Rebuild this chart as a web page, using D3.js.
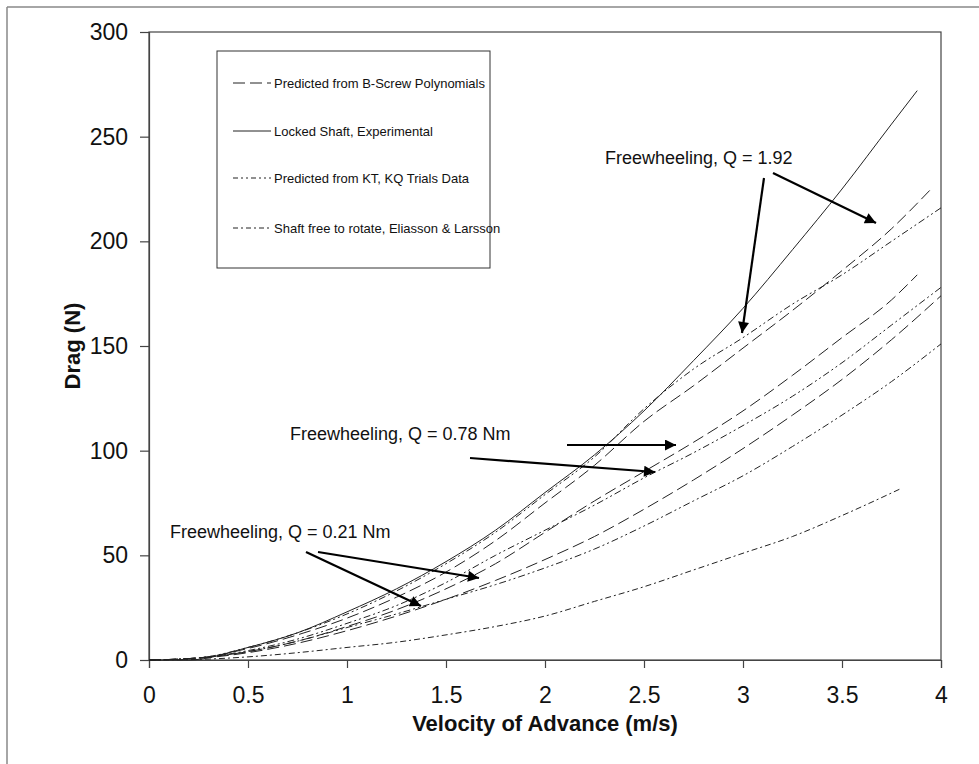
<!DOCTYPE html>
<html><head><meta charset="utf-8">
<script src="https://cdn.jsdelivr.net/npm/d3@7"></script>
<style>
body{margin:0;background:#fff;}
svg{display:block;font-family:Arial,"Liberation Sans",sans-serif;}
</style></head>
<body><svg id="c" width="979" height="764"></svg>
<script>
// ---- data ----
const xTicks = [0, 0.5, 1, 1.5, 2, 2.5, 3, 3.5, 4];
const yTicks = [0, 50, 100, 150, 200, 250, 300];
const xTitle = "Velocity of Advance (m/s)";
const yTitle = "Drag (N)";

// Locked shaft, experimental (solid)
const lockedV = [0, 0.2, 0.5, 0.75, 1, 1.25, 1.5, 1.75, 2, 2.25, 2.5, 2.75, 3, 3.25, 3.5, 3.75, 3.88];
const lockedD = [0, 0, 6, 13, 23, 34, 47, 62, 80, 98, 119, 143, 168, 196, 225, 256, 272];

// Predicted from B-Screw polynomials (dashed), three freewheel torques
const bs192V = [0, 0.25, 0.5, 0.75, 1, 1.25, 1.5, 1.75, 2, 2.25, 2.5, 2.75, 3, 3.25, 3.5, 3.75, 3.96];
const bs192D = [0, 1, 5.5, 12, 20, 30, 42, 57, 75, 93, 114, 131, 149, 167, 186, 206, 226];
const bs078V = [0, 0.25, 0.5, 0.75, 1, 1.25, 1.5, 1.75, 2, 2.25, 2.5, 2.75, 3, 3.25, 3.5, 3.75, 3.88];
const bs078D = [0, 1, 4, 9, 16, 24, 34, 46, 61, 76, 90, 104, 119, 136, 154, 172, 184];
const bs021V = [0, 0.25, 0.5, 0.75, 1, 1.25, 1.5, 1.75, 2, 2.25, 2.5, 2.75, 3, 3.25, 3.5, 3.75, 4];
const bs021D = [0, 0.8, 3.5, 8, 14, 21, 29, 38, 48, 59, 72, 86, 101, 117, 134, 153, 174];

// Predicted from KT, KQ trials data (dash-dot-dot)
const kt192V = [0, 0.25, 0.5, 0.75, 1, 1.25, 1.5, 1.75, 2, 2.25, 2.5, 2.75, 3, 3.25, 3.5, 3.75, 4];
const kt192D = [0, 1, 6, 13, 22, 33, 46, 61, 79, 97, 120, 139, 154, 170, 184, 200, 216];
const kt078V = [0, 0.25, 0.5, 0.75, 1, 1.25, 1.5, 1.75, 2, 2.25, 2.5, 2.75, 3, 3.25, 3.5, 3.75, 4];
const kt078D = [0, 1, 4.5, 10, 17.5, 26, 37, 50, 62, 74, 87, 99, 112, 126, 142, 160, 178];
const kt021V = [0, 0.25, 0.5, 0.75, 1, 1.25, 1.5, 1.75, 2, 2.25, 2.5, 2.75, 3, 3.25, 3.5, 3.75, 4];
const kt021D = [0, 1, 4, 9, 15.5, 22, 29, 36, 44, 53, 64, 76, 88, 102, 117, 133, 151];

// Shaft free to rotate, Eliasson & Larsson (dash-dot)
const elV = [0, 0.25, 0.5, 0.75, 1, 1.25, 1.5, 1.75, 2, 2.25, 2.5, 2.75, 3, 3.25, 3.5, 3.8];
const elD = [0, 0.3, 1.5, 3.5, 6, 8.5, 12, 16, 21, 28, 35, 43, 51, 59, 69, 82];

const legendLabels = ["Predicted from B-Screw Polynomials", "Locked Shaft, Experimental",
  "Predicted from KT, KQ Trials Data", "Shaft free to rotate, Eliasson & Larsson"];
const notes = ["Freewheeling, Q = 1.92", "Freewheeling, Q = 0.78 Nm", "Freewheeling, Q = 0.21 Nm"];

// ---- drawing ----
const svg = d3.select("#c");
const x = d3.scaleLinear().domain([0, 4]).range([149, 941]);
const y = d3.scaleLinear().domain([0, 300]).range([660, 32]);

const dashB = "12,5", dashKT = "7,3,2,3,2,3", dashEL = "6,3,2,3";

// outer frame (top & left visible)
svg.append("line").attr("x1", 7).attr("y1", 7).attr("x2", 979).attr("y2", 7).attr("stroke", "#888").attr("stroke-width", 1.5);
svg.append("line").attr("x1", 7).attr("y1", 7).attr("x2", 7).attr("y2", 764).attr("stroke", "#888").attr("stroke-width", 1.5);

// plot frame
svg.append("rect").attr("x", x(0)).attr("y", y(300)).attr("width", x(4) - x(0)).attr("height", y(0) - y(300))
  .attr("fill", "none").attr("stroke", "#444").attr("stroke-width", 1.2);

const xAxis = svg.append("g").attr("transform", `translate(0,${y(0)})`)
  .call(d3.axisBottom(x).tickValues(xTicks).tickSize(8).tickPadding(19).tickFormat(d3.format("")));
const yAxis = svg.append("g").attr("transform", `translate(${x(0)},0)`)
  .call(d3.axisLeft(y).tickValues(yTicks).tickSize(9).tickPadding(12).tickFormat(d3.format("")));
[xAxis, yAxis].forEach(a => {
  a.select(".domain").attr("stroke", "#444").attr("stroke-width", 1.2);
  a.selectAll(".tick line").attr("stroke", "#444").attr("stroke-width", 1.2);
  a.selectAll("text").attr("font-size", 23).attr("fill", "#111").attr("font-family", "Arial, 'Liberation Sans', sans-serif");
});

svg.append("text").attr("x", 545).attr("y", 731).attr("text-anchor", "middle")
  .attr("font-size", 22).attr("font-weight", "bold").attr("fill", "#111").text(xTitle);
svg.append("text").attr("transform", "translate(80,346) rotate(-90)").attr("text-anchor", "middle")
  .attr("font-size", 22).attr("font-weight", "bold").attr("fill", "#111").text(yTitle);

const line = d3.line().x(d => x(d[0])).y(d => y(d[1])).curve(d3.curveMonotoneX);
const series = [
  {v: elV, d: elD, dash: dashEL},
  {v: kt021V, d: kt021D, dash: dashKT},
  {v: bs021V, d: bs021D, dash: dashB},
  {v: kt078V, d: kt078D, dash: dashKT},
  {v: bs078V, d: bs078D, dash: dashB},
  {v: kt192V, d: kt192D, dash: dashKT},
  {v: bs192V, d: bs192D, dash: dashB},
  {v: lockedV, d: lockedD, dash: null},
];
series.forEach(s => {
  svg.append("path").datum(s.v.map((v, i) => [v, s.d[i]])).attr("d", line)
    .attr("fill", "none").attr("stroke", "#222").attr("stroke-width", 1)
    .attr("stroke-dasharray", s.dash);
});

// legend
const lg = svg.append("g");
lg.append("rect").attr("x", 217).attr("y", 51).attr("width", 273).attr("height", 217)
  .attr("fill", "#fff").attr("stroke", "#333").attr("stroke-width", 1);
const lgDash = [dashB, null, "5,3,2,3,2,3", "5,3,2,3"];
[83, 131, 178, 228].forEach((yy, i) => {
  lg.append("line").attr("x1", 233).attr("x2", 271).attr("y1", yy).attr("y2", yy)
    .attr("stroke", "#222").attr("stroke-width", 1).attr("stroke-dasharray", lgDash[i]);
  lg.append("text").attr("x", 274).attr("y", yy + 4.5).attr("font-size", 13).attr("fill", "#111").text(legendLabels[i]);
});

// annotations
svg.append("defs").append("marker").attr("id", "ah").attr("viewBox", "0 0 10 10")
  .attr("refX", 10).attr("refY", 5).attr("markerWidth", 6).attr("markerHeight", 5).attr("orient", "auto")
  .attr("markerUnits", "strokeWidth")
  .append("path").attr("d", "M0,0 L10,5 L0,10 z").attr("fill", "#000");
const ann = [
  {t: notes[0], tx: 605, ty: 164, arrows: [[764, 178, 742, 333], [773, 173, 876, 223]]},
  {t: notes[1], tx: 290, ty: 440, arrows: [[567, 445, 676, 445], [470, 458, 655, 472]]},
  {t: notes[2], tx: 170, ty: 538, arrows: [[318, 552, 479, 578], [306, 552, 421, 606]]},
];
ann.forEach(a => {
  svg.append("text").attr("x", a.tx).attr("y", a.ty).attr("font-size", 18).attr("fill", "#111").text(a.t);
  a.arrows.forEach(r => {
    svg.append("line").attr("x1", r[0]).attr("y1", r[1]).attr("x2", r[2]).attr("y2", r[3])
      .attr("stroke", "#000").attr("stroke-width", 2.2).attr("marker-end", "url(#ah)");
  });
});
</script></body></html>
